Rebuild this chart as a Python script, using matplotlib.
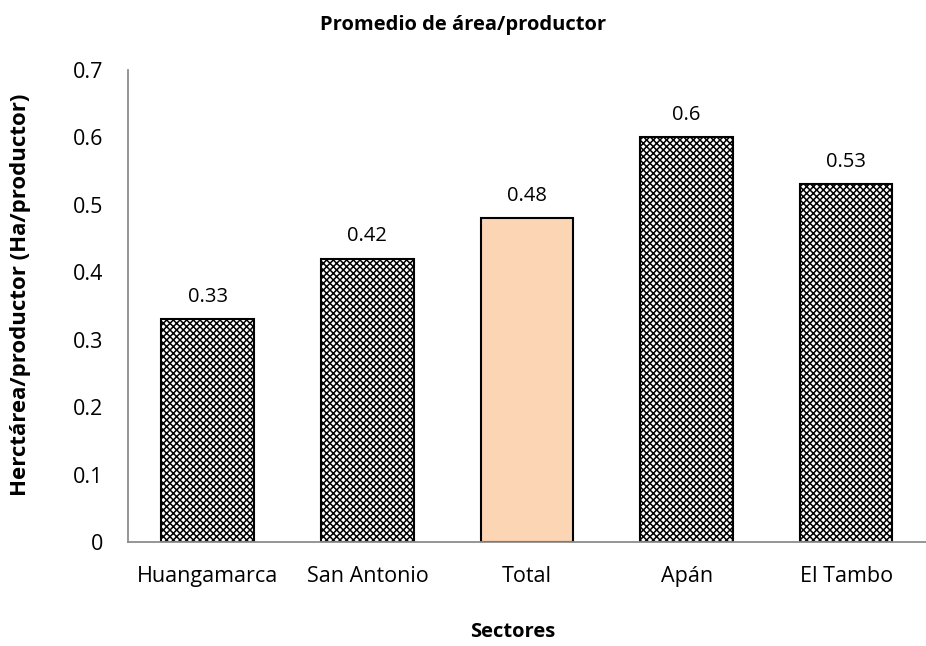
import matplotlib.pyplot as plt

plt.rcParams["font.family"] = ["Open Sans", "DejaVu Sans"]
plt.rcParams["hatch.linewidth"] = 1.1

sectores = ["Huangamarca", "San Antonio", "Total", "Apán", "El Tambo"]
promedio = [0.33, 0.42, 0.48, 0.60, 0.53]
etiquetas = ["0.33", "0.42", "0.48", "0.6", "0.53"]
yticks = [0, 0.1, 0.2, 0.3, 0.4, 0.5, 0.6, 0.7]
ytick_labels = ["0", "0.1", "0.2", "0.3", "0.4", "0.5", "0.6", "0.7"]

fig = plt.figure(figsize=(9.26, 6.46), dpi=100)
ax = fig.add_axes([0.1382, 0.161, 0.8618, 0.731])

x = list(range(len(sectores)))
for i, (name, val) in enumerate(zip(sectores, promedio)):
    if name == "Total":
        ax.bar(i, val, width=0.58, color="#FCD5B4", edgecolor="black", linewidth=1.5)
    else:
        ax.bar(i, val, width=0.58, color="white", edgecolor="black",
               linewidth=1.5, hatch="xxxxx")

# data labels
for i, (val, lab) in enumerate(zip(promedio, etiquetas)):
    ax.annotate(lab, (i, val), xytext=(0, 9), textcoords="offset points",
                ha="center", va="bottom", fontsize=14.5)

ax.set_xlim(-0.5, len(sectores) - 0.5)
ax.set_ylim(0, 0.7)
ax.set_yticks(yticks)
ax.set_yticklabels(ytick_labels)
ax.set_xticks(x)
ax.set_xticklabels(sectores)
ax.tick_params(axis="both", length=0, labelsize=15.5)
ax.tick_params(axis="y", pad=18)
ax.tick_params(axis="x", pad=17)

for side in ["top", "right"]:
    ax.spines[side].set_visible(False)
for side in ["left", "bottom"]:
    ax.spines[side].set_color("#8c8c8c")
    ax.spines[side].set_linewidth(1.3)

fig.text(0.5, 0.961, "Promedio de área/productor", ha="center", va="center",
         fontsize=14.5, fontweight="bold")
fig.text(0.554, 0.022, "Sectores", ha="center", va="center",
         fontsize=14.5, fontweight="bold")
fig.text(0.022, 0.543, "Herctárea/productor (Ha/productor)", ha="center",
         va="center", rotation=90, fontsize=16, fontweight="bold")

plt.savefig("out.png", dpi=100)
